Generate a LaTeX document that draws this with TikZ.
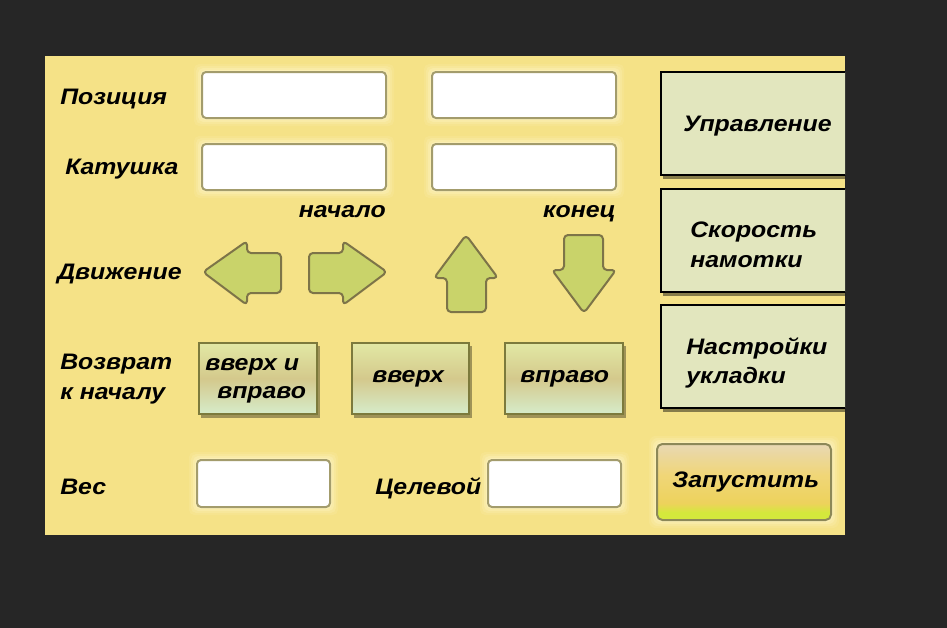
\documentclass[tikz,border=0pt]{standalone}
\usepackage{fontspec}
\newfontfamily\uiff{Liberation Sans}[FakeStretch=1.11]
\usetikzlibrary{fit}
\definecolor{bgdark}{HTML}{262626}
\definecolor{panel}{HTML}{F5E287}
\definecolor{boxline}{HTML}{A39C6C}
\definecolor{glow}{HTML}{FFF8D0}
\definecolor{arrfill}{HTML}{C9D36A}
\definecolor{arrline}{HTML}{7D7448}
\definecolor{btntop}{HTML}{E2E8A4}
\definecolor{btnmid}{HTML}{D4C98C}
\definecolor{btnbot}{HTML}{D6ECCA}
\definecolor{btnline}{HTML}{7C7A3C}
\definecolor{menufill}{HTML}{E2E6BE}
\definecolor{lgreen}{HTML}{D4E83C}
\definecolor{lgold}{HTML}{EDD25C}
\definecolor{lgold2}{HTML}{F0D678}
\definecolor{lpeach}{HTML}{E8D8B4}
\definecolor{launchline}{HTML}{8C8858}
\pgfdeclareverticalshading{launchshade}{100bp}{color(0bp)=(lgreen); color(25bp)=(lgreen); color(30bp)=(lgreen); color(36bp)=(lgold); color(55bp)=(lgold2); color(75bp)=(lpeach); color(100bp)=(lpeach)}
\newcommand\uifont{\uiff\fontsize{16.8}{22.5}\selectfont\bfseries\itshape}
\newcommand\inbox[5]{%
  \foreach \g/\o in {8/0.12,6/0.18,4/0.25,2/0.35}{%
    \fill[glow,opacity=\o,rounded corners=4pt] (#2-\g,#3-\g) rectangle (#4+\g,#5+\g);}
  \node[inputbox,fit={(#2,#3) (#4,#5)}] (#1) {};}
\newcommand\btn[5]{%
  \fill[black,opacity=0.35] (#2+2,#3+3) rectangle (#4+3,#5+4);
  \node[smallbtn,fit={(#2,#3) (#4,#5)}] (#1) {};}
\begin{document}
\begin{tikzpicture}[x=0.75pt,y=-0.75pt,
  inputbox/.style={draw=boxline,line width=1.5pt,fill=white,rounded corners=3pt,inner sep=0pt},
  smallbtn/.style={draw=btnline,line width=1.5pt,top color=btntop,bottom color=btnbot,middle color=btnmid,inner sep=0pt},
  menubtn/.style={draw=black,line width=1.5pt,fill=menufill,inner sep=0pt},
  lbl/.style={anchor=base west,inner sep=0pt,font=\uifont},
  rlbl/.style={anchor=base east,inner sep=0pt,font=\uifont},
  arr/.style={fill=arrfill,draw=arrline,line width=1.5pt,rounded corners=3pt,line join=round}]
\useasboundingbox (0,0) rectangle (947,628);
\fill[bgdark] (0,0) rectangle (947,628);
\fill[panel] (45,56) rectangle (845,535);

% labels
\node[lbl] (lpos) at (60,104) {Позиция};
\node[lbl] (lkat) at (65,174) {Катушка};
\node[lbl] (ldv) at (57,279) {Движение};
\node[lbl] (lvoz1) at (60,369) {Возврат};
\node[lbl] (lvoz2) at (60,399) {к началу};
\node[lbl] (lves) at (60,494) {Вес};
\node[lbl] (lcel) at (375,494) {Целевой};
\node[rlbl] (lnach) at (386,217) {начало};
\node[rlbl] (lkon) at (616,217) {конец};

% input boxes
\inbox{pos1}{202}{72}{386}{118}
\inbox{pos2}{432}{72}{616}{118}
\inbox{kat1}{202}{144}{386}{190}
\inbox{kat2}{432}{144}{616}{190}
\inbox{ves}{197}{460}{330}{507}
\inbox{cel}{488}{460}{621}{507}

% arrows
\draw[arr] (203,272) -- (247,241) -- (247,253) -- (281,253) -- (281,293) -- (247,293) -- (247,305) -- cycle;
\draw[arr] (387,272) -- (343,241) -- (343,253) -- (309,253) -- (309,293) -- (343,293) -- (343,305) -- cycle;
\draw[arr] (466,235) -- (498,278) -- (486,278) -- (486,312) -- (447,312) -- (447,278) -- (434,278) -- cycle;
\draw[arr] (584,313) -- (616,270) -- (603,270) -- (603,235) -- (564,235) -- (564,270) -- (552,270) -- cycle;

% return buttons
\btn{bupright}{199}{343}{317}{414}
\btn{bup}{352}{343}{469}{414}
\btn{bright}{505}{343}{623}{414}
\node[lbl] (tupr1) at (205,370) {вверх и};
\node[lbl] (tupr2) at (217,398) {вправо};
\node[lbl] (tup) at (372,382) {вверх};
\node[lbl] (tright) at (520,382) {вправо};

% right menu buttons
\begin{scope}
\clip (45,56) rectangle (845,535);
\fill[black,opacity=0.45] (663,75) rectangle (880,179);
\node[menubtn,fit={(661,72) (875,175)}] (mupr) {};
\fill[black,opacity=0.45] (663,191) rectangle (880,296);
\node[menubtn,fit={(661,189) (875,292)}] (mspeed) {};
\fill[black,opacity=0.45] (663,308) rectangle (880,412);
\node[menubtn,fit={(661,305) (875,408)}] (mlay) {};
\end{scope}
\node[lbl] (tuprav) at (683,131) {Управление};
\node[lbl] (tspeed1) at (690,237) {Скорость};
\node[lbl] (tspeed2) at (690,267) {намотки};
\node[lbl] (tlay1) at (686,354) {Настройки};
\node[lbl] (tlay2) at (686,383) {укладки};

% launch button
\foreach \g/\o in {8/0.12,6/0.18,4/0.25,2/0.35}{%
  \fill[glow,opacity=\o,rounded corners=5pt] (657-\g,444-\g) rectangle (831+\g,520+\g);}
\node[draw=launchline,line width=1.5pt,shading=launchshade,rounded corners=4pt,inner sep=0pt,fit={(657,444) (831,520)}] (launch) {};
\node[lbl] (tlaunch) at (672,487) {Запустить};
\end{tikzpicture}
\end{document}
